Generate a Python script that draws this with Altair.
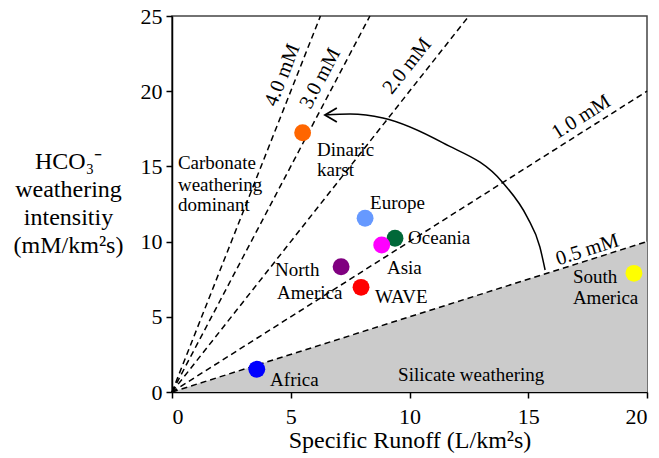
import math
import altair as alt
import pandas as pd

# ---- data ----
regions = ["Africa", "North America", "WAVE", "Oceania", "Asia", "Europe",
           "Dinaric karst", "South America"]
runoff = [3.57, 7.12, 7.96, 9.39, 8.83, 8.13, 5.50, 19.45]
hco3 = [1.51, 8.33, 6.96, 10.22, 9.77, 11.55, 17.24, 7.89]
colors = ["#0000ff", "#800080", "#ff0000", "#006838", "#ff00ff", "#6699ff",
          "#ff6600", "#ffff00"]

conc = [0.5, 1.0, 2.0, 3.0, 4.0]
conc_labels = ["0.5 mM", "1.0 mM", "2.0 mM", "3.0 mM", "4.0 mM"]
conc_label_x = [17.49, 17.23, 9.90, 6.24, 4.65]
conc_label_y = [9.45, 18.28, 21.67, 20.85, 21.07]

arc_x = [6.44, 7.50, 8.88, 11.41, 13.94, 14.95, 15.49, 15.71]
arc_y = [18.42, 18.48, 18.22, 16.56, 13.90, 11.64, 9.64, 8.11]

ann_text = ["Carbonate", "weathering", "dominant", "Dinaric", "karst", "Europe",
            "Oceania", "Asia", "North", "America", "WAVE", "South", "America",
            "Africa", "Silicate weathering"]
ann_x = [0.25, 0.25, 0.25, 6.11, 6.11, 8.34, 9.94, 9.05, 4.34, 4.42, 8.55,
         16.88, 16.88, 4.13, 9.52]
ann_y = [15.23, 13.76, 12.43, 16.09, 14.76, 12.57, 10.24, 8.24, 8.11, 6.58,
         6.32, 7.65, 6.25, 0.80, 1.13]

x_ticks = [0, 5, 10, 15, 20]
y_ticks = [0, 5, 10, 15, 20, 25]
XMAX, YMAX = 20, 25

# ---- layout ----
W, H = 475, 376
FONT = "Liberation Serif"

xs = alt.Scale(domain=[0, XMAX], nice=False, zero=True)
ys = alt.Scale(domain=[0, YMAX], nice=False, zero=True)

pts = pd.DataFrame({"region": regions, "x": runoff, "y": hco3, "c": colors,
                    "order": list(range(len(regions)))})

line_rows = []
for c in conc:
    xe = min(XMAX, YMAX / c)
    line_rows.append({"conc": c, "x": 0.0, "y": 0.0})
    line_rows.append({"conc": c, "x": xe, "y": c * xe})
lines_df = pd.DataFrame(line_rows)

px_per_x = W / XMAX
px_per_y = H / YMAX
lab_df = pd.DataFrame({
    "t": conc_labels, "x": conc_label_x, "y": conc_label_y,
    "ang": [360 - math.degrees(math.atan(c * px_per_y / px_per_x)) for c in conc],
})

area_df = pd.DataFrame({"x": [0, XMAX], "y": [0, conc[0] * XMAX]})
arc_df = pd.DataFrame({"x": arc_x, "y": arc_y, "i": list(range(len(arc_x)))})
head_df = pd.DataFrame({"x": [arc_x[0]], "y": [arc_y[0]]})
ann_df = pd.DataFrame({"t": ann_text, "x": ann_x, "y": ann_y})

xaxis = alt.Axis(values=x_ticks, title="Specific Runoff (L/km²s)", grid=False,
                 labelFont=FONT, labelFontSize=22, labelColor="#000",
                 labelPadding=8, tickSize=6, tickWidth=1.5, tickColor="#000",
                 domainColor="#000", domainWidth=1.5,
                 titleFont=FONT, titleFontSize=24, titleFontWeight="normal",
                 titleColor="#000", titleY=55, titleBaseline="alphabetic")
yaxis = alt.Axis(values=y_ticks,
                 title=["HCO₃⁻", "weathering", "intensitiy", "(mM/km²s)"],
                 grid=False, labelFont=FONT, labelFontSize=22, labelColor="#000",
                 labelPadding=4, tickSize=6, tickWidth=1.5, tickColor="#000",
                 domainColor="#000", domainWidth=1.5,
                 titleFont=FONT, titleFontSize=24, titleFontWeight="normal",
                 titleColor="#000", titleAngle=0, titleAlign="center",
                 titleBaseline="alphabetic", titleX=-104, titleY=152,
                 titleLineHeight=28)

area = alt.Chart(area_df).mark_area(color="#cbcbcb", opacity=1).encode(
    x=alt.X("x:Q", scale=xs, axis=xaxis),
    y=alt.Y("y:Q", scale=ys, axis=yaxis),
)

lines = alt.Chart(lines_df).mark_line(color="#000", strokeWidth=1.5,
                                      strokeDash=[6, 4]).encode(
    x=alt.X("x:Q", scale=xs), y=alt.Y("y:Q", scale=ys), detail="conc:N",
)

arc = alt.Chart(arc_df).mark_line(color="#000", strokeWidth=1.5,
                                  interpolate="monotone").encode(
    x=alt.X("x:Q", scale=xs), y=alt.Y("y:Q", scale=ys), order="i:Q",
)

head = alt.Chart(head_df).mark_point(shape="M1.7,-1L0,0L1.7,1", size=196,
                                     filled=False, color="#000",
                                     strokeWidth=1.8, opacity=1).encode(
    x=alt.X("x:Q", scale=xs), y=alt.Y("y:Q", scale=ys),
)

points = alt.Chart(pts).mark_circle(size=285, opacity=1).encode(
    x=alt.X("x:Q", scale=xs), y=alt.Y("y:Q", scale=ys),
    color=alt.Color("c:N", scale=None), order="order:Q",
)

conc_text = alt.Chart(lab_df).mark_text(font=FONT, fontSize=20.5, color="#000",
                                        align="center", baseline="middle").encode(
    x=alt.X("x:Q", scale=xs), y=alt.Y("y:Q", scale=ys), text="t:N",
    angle=alt.Angle("ang:Q", scale=None),
)

ann = alt.Chart(ann_df).mark_text(font=FONT, fontSize=19, color="#000",
                                  align="left", baseline="middle").encode(
    x=alt.X("x:Q", scale=xs), y=alt.Y("y:Q", scale=ys), text="t:N",
)

chart = alt.layer(area, lines, arc, head, points, conc_text, ann).properties(
    width=W, height=H,
    autosize=alt.AutoSizeParams(type="none"),
    padding={"left": 172, "top": 16, "right": 12, "bottom": 66},
    background="white",
).configure_view(stroke="#444", strokeWidth=1.5)

chart.save("out.html", embed_options={"renderer": "svg", "actions": False})
